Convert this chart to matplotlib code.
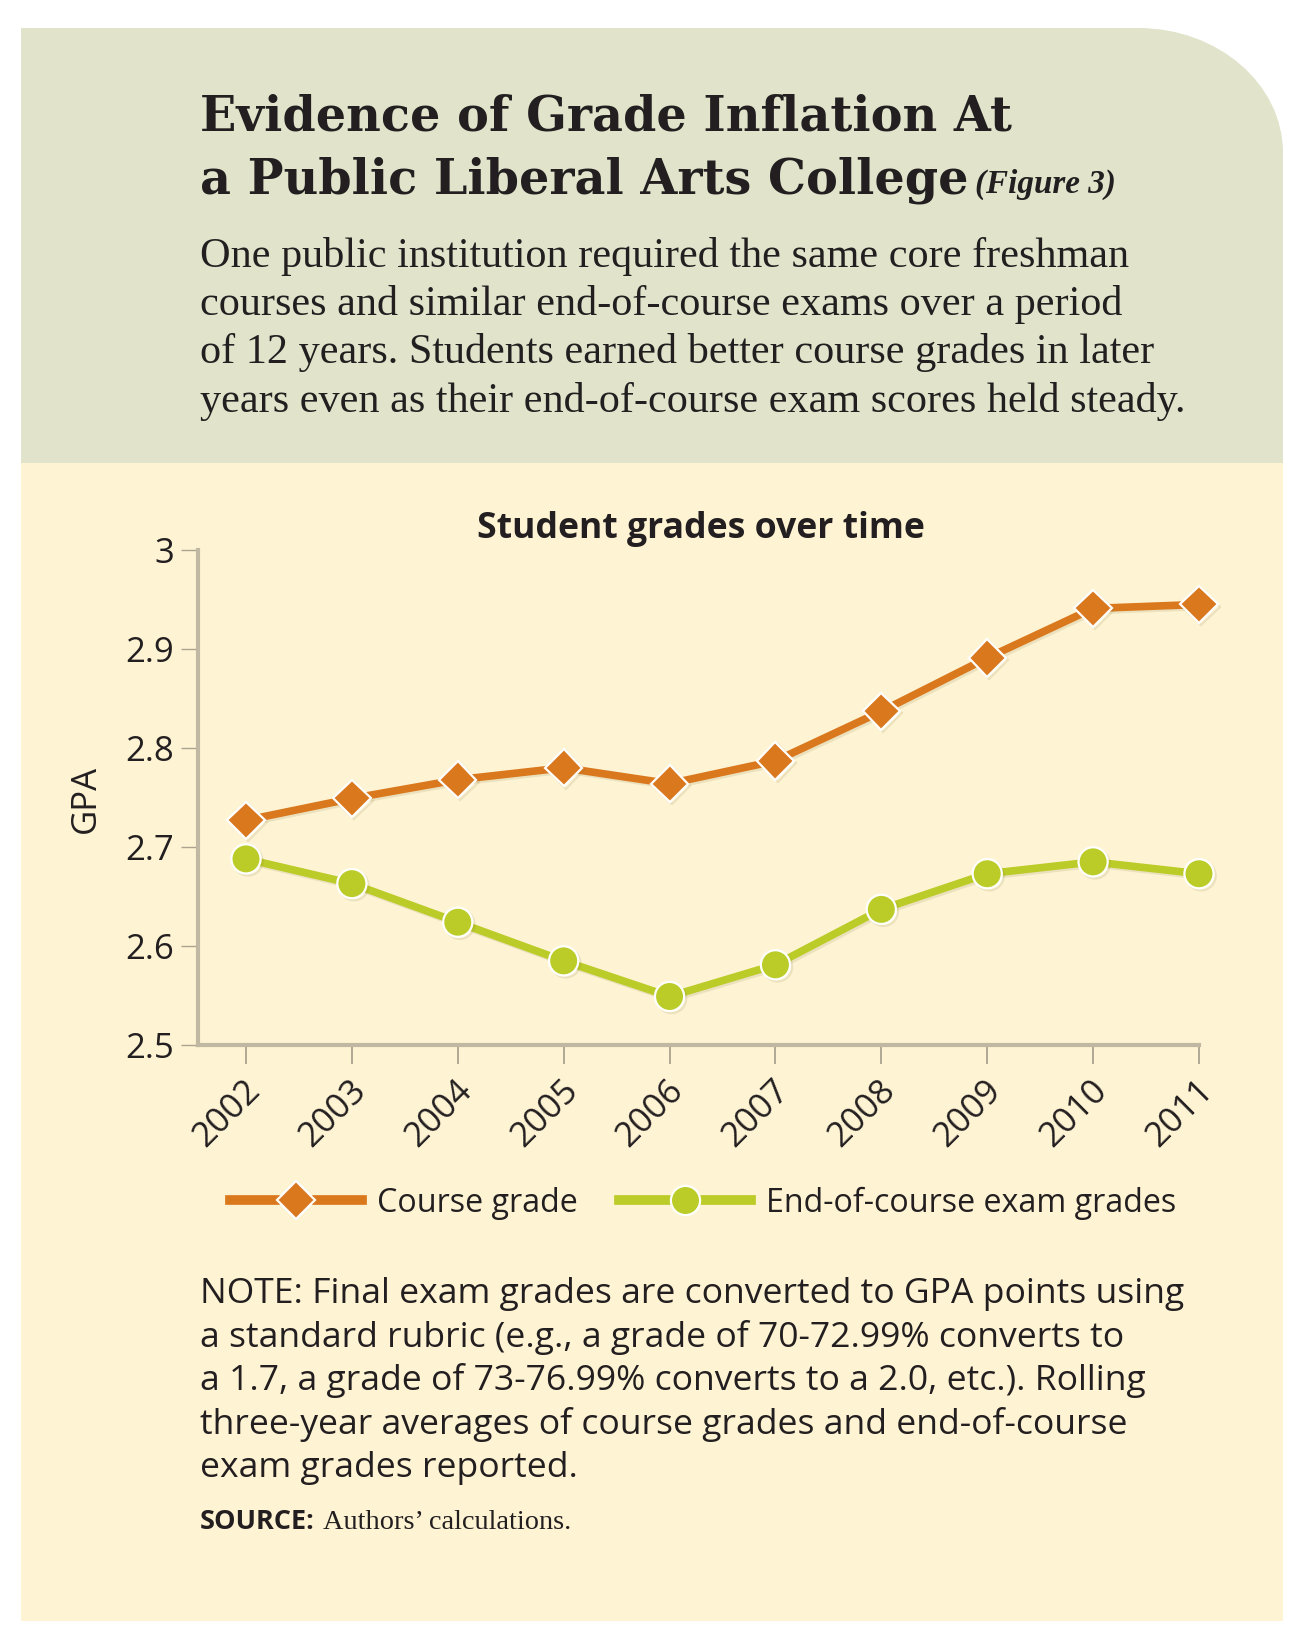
import matplotlib
matplotlib.use("Agg")
import matplotlib.pyplot as plt
import matplotlib.patheffects as pe
from matplotlib.patches import Rectangle, PathPatch
from matplotlib.path import Path
from matplotlib.lines import Line2D
from matplotlib.transforms import ScaledTranslation

# ---------------------------------------------------------------------------
# data
# ---------------------------------------------------------------------------
years = [2002, 2003, 2004, 2005, 2006, 2007, 2008, 2009, 2010, 2011]
course_grade = [2.727, 2.749, 2.768, 2.780, 2.764, 2.787, 2.837, 2.891, 2.941, 2.945]
exam_grade = [2.688, 2.663, 2.624, 2.585, 2.549, 2.581, 2.637, 2.673, 2.685, 2.673]

gpa_ticks = [2.5, 2.6, 2.7, 2.8, 2.9, 3.0]
gpa_labels = ["2.5", "2.6", "2.7", "2.8", "2.9", "3"]
series_names = ["Course grade", "End-of-course exam grades"]

title_lines = ["Evidence of Grade Inflation At",
               "a Public Liberal Arts College"]
fig_tag = "(Figure 3)"
intro_lines = ["One public institution required the same core freshman",
               "courses and similar end-of-course exams over a period",
               "of 12 years. Students earned better course grades in later",
               "years even as their end-of-course exam scores held steady."]
chart_title = "Student grades over time"
note_lines = ["NOTE: Final exam grades are converted to GPA points using",
              "a standard rubric (e.g., a grade of 70-72.99% converts to",
              "a 1.7, a grade of 73-76.99% converts to a 2.0, etc.). Rolling",
              "three-year averages of course grades and end-of-course",
              "exam grades reported."]

# colours
GREEN_BG = "#E1E4CB"
YELLOW_BG = "#FEF4D4"
ORANGE = "#DA781E"
LIME = "#BBCB27"
INK = "#231F20"
AXIS = "#C0B8A3"
TICK = "#ABA390"

SANS = ["Open Sans", "DejaVu Sans"]
SERIF = ["Liberation Serif", "DejaVu Serif"]

W, H = 1305, 1648
fig = plt.figure(figsize=(W / 100, H / 100), dpi=100)
fig.patch.set_facecolor("white")

# background canvas in pixel coordinates (y down)
bg = fig.add_axes([0, 0, 1, 1])
bg.set_xlim(0, W)
bg.set_ylim(H, 0)
bg.axis("off")

bg.add_patch(Rectangle((21, 462), 1262, 1159, fc=YELLOW_BG, ec="none"))

# green header with a rounded top-right corner
x0, x1, y0, y1 = 21, 1283, 28, 463
rx, ry = 145, 125
k = 0.5523
verts = [(x0, y1), (x0, y0), (x1 - rx, y0),
         (x1 - rx + k * rx, y0), (x1, y0 + ry - k * ry), (x1, y0 + ry),
         (x1, y1), (x0, y1)]
codes = [Path.MOVETO, Path.LINETO, Path.LINETO,
         Path.CURVE4, Path.CURVE4, Path.CURVE4,
         Path.LINETO, Path.CLOSEPOLY]
bg.add_patch(PathPatch(Path(verts, codes), fc=GREEN_BG, ec="none"))

renderer = fig.canvas.get_renderer()


def fit(t, width):
    w = t.get_window_extent(renderer).width
    t.set_fontsize(t.get_fontsize() * width / w)
    return t.get_fontsize()


# title block
t = bg.text(200, 130, title_lines[0], family=["DejaVu Serif"], weight="bold",
            color=INK, va="baseline", fontsize=30)
size = fit(t, 812)
t2 = bg.text(200, 193, title_lines[1], family=["DejaVu Serif"], weight="bold",
             color=INK, va="baseline", fontsize=size)
t3 = bg.text(975, 193, fig_tag, family=SERIF, style="italic", weight="bold",
             color=INK, va="baseline", fontsize=20)
fit(t3, 141)

# intro paragraph
baselines = [267, 315, 363, 412]
t = bg.text(200, baselines[3], intro_lines[3], family=SERIF, color=INK,
            va="baseline", fontsize=24)
size = fit(t, 987)
for line, yb in zip(intro_lines[:3], baselines[:3]):
    bg.text(200, yb, line, family=SERIF, color=INK, va="baseline", fontsize=size)

# chart title
t = bg.text(701, 538, chart_title, family=SANS, weight="bold", color=INK,
            va="baseline", ha="center", fontsize=22)
fit(t, 447)

# note block
note_base = [1303, 1347, 1390, 1434, 1477]
t = bg.text(200, note_base[0], note_lines[0], family=SANS, color=INK,
            va="baseline", fontsize=22)
size = fit(t, 982)
for line, yb in zip(note_lines[1:], note_base[1:]):
    bg.text(200, yb, line, family=SANS, color=INK, va="baseline", fontsize=size)

t = bg.text(200, 1529, "SOURCE:", family=SANS, weight="bold", color=INK,
            va="baseline", fontsize=14)
fit(t, 115)
t = bg.text(323, 1529, "Authors\u2019 calculations.", family=SERIF, color=INK,
            va="baseline", fontsize=16)
fit(t, 248)

# ---------------------------------------------------------------------------
# the chart
# ---------------------------------------------------------------------------
ax = fig.add_axes([198 / W, 1 - 1045 / H, 1001 / W, 495 / H])
ax.set_facecolor("none")
ax.set_xlim(2002 - 48 / 105.9, 2011)
ax.set_ylim(2.5, 3.0)

shadow = [pe.SimpleLineShadow(offset=(1.5, -1.5), shadow_color="#8a7a40", alpha=0.15),
          pe.Normal()]
ax.plot(years, course_grade, color=ORANGE, lw=5.5, marker="D", ms=19,
        mfc=ORANGE, mec="white", mew=1.6, clip_on=False, zorder=3,
        path_effects=shadow)
ax.plot(years, exam_grade, color=LIME, lw=5.5, marker="o", ms=21,
        mfc=LIME, mec="white", mew=1.6, clip_on=False, zorder=3,
        path_effects=shadow)

for s in ["top", "right"]:
    ax.spines[s].set_visible(False)
for s in ["left", "bottom"]:
    ax.spines[s].set_color(AXIS)
    ax.spines[s].set_linewidth(3)

TICK_FS = 25
ax.set_yticks(gpa_ticks)
ax.set_yticklabels(gpa_labels, family=SANS, fontsize=TICK_FS, color=INK)
ax.set_xticks(years)
ax.set_xticklabels([str(y) for y in years], family=SANS, fontsize=TICK_FS, color=INK,
                   rotation=45, ha="right", va="center", rotation_mode="anchor")
ax.tick_params(axis="y", length=12, width=1, color=TICK, pad=5)
ax.tick_params(axis="x", length=14, width=1.3, color=TICK, pad=15)
off = ScaledTranslation(9 / 100, 0, fig.dpi_scale_trans)
for lab in ax.get_xticklabels():
    lab.set_transform(lab.get_transform() + off)

ax.set_ylabel("GPA", family=SANS, fontsize=TICK_FS, color=INK)
ax.yaxis.set_label_coords(-95 / 1001, (1045 - 799) / 495)

handles = [Line2D([], [], color=ORANGE, lw=7, marker="D", ms=19, mfc=ORANGE,
                  mec="white", mew=1.6),
           Line2D([], [], color=LIME, lw=7, marker="o", ms=21, mfc=LIME,
                  mec="white", mew=1.6)]
fig.legend(handles, series_names, loc="center", ncol=2, frameon=False,
           bbox_to_anchor=(703 / W, 1 - 1203 / H),
           prop={"family": SANS, "size": 23.2}, handlelength=4.1,
           handletextpad=0.45, columnspacing=1.3, borderpad=0,
           labelcolor=INK)

fig.savefig("out.png", dpi=100, facecolor="white")
